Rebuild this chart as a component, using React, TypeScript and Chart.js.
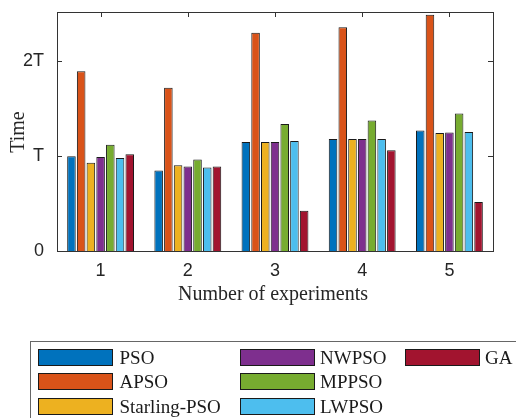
import React, { useEffect, useRef } from "react";
import { Chart, registerables } from "chart.js";

Chart.register(...registerables);

const categories = ["1", "2", "3", "4", "5"];
const seriesNames = ["PSO", "APSO", "Starling-PSO", "NWPSO", "MPPSO", "LWPSO", "GA"];
const seriesColors = ["#0072BD", "#D95319", "#EDB120", "#7E2F8E", "#77AC30", "#4DBEEE", "#A2142F"];
const pso = [1.0, 0.85, 1.15, 1.18, 1.27];
const apso = [1.895, 1.72, 2.3, 2.36, 2.49];
const starling = [0.93, 0.905, 1.15, 1.18, 1.245];
const nwpso = [0.99, 0.89, 1.15, 1.18, 1.25];
const mppso = [1.12, 0.965, 1.34, 1.375, 1.45];
const lwpso = [0.98, 0.88, 1.16, 1.18, 1.255];
const ga = [1.02, 0.89, 0.425, 1.063, 0.516];
const seriesValues = [pso, apso, starling, nwpso, mppso, lwpso, ga];
const yTickValues = [0, 1, 2];
const yTickLabels = ["0", "T", "2T"];
const xTitle = "Number of experiments";
const yTitle = "Time";

const AXIS = "#333333";

const decorPlugin = {
  id: "decor",
  beforeDatasetsDraw(chart: any) {
    const { ctx, chartArea: a, scales } = chart;
    const x = scales.x;
    const y = scales.y;
    ctx.save();
    ctx.strokeStyle = AXIS;
    ctx.lineWidth = 1;
    const tl = 5;
    ctx.beginPath();
    yTickValues.forEach((v) => {
      const py = Math.round(y.getPixelForValue(v)) + 0.5;
      ctx.moveTo(a.left, py);
      ctx.lineTo(a.left + tl, py);
      ctx.moveTo(a.right, py);
      ctx.lineTo(a.right - tl, py);
    });
    categories.forEach((_, i) => {
      const px = Math.round(x.getPixelForValue(i)) + 0.5;
      ctx.moveTo(px, a.top);
      ctx.lineTo(px, a.top + tl);
      ctx.moveTo(px, a.bottom);
      ctx.lineTo(px, a.bottom - tl);
    });
    ctx.stroke();
    ctx.restore();
  },
  afterDraw(chart: any) {
    const { ctx, chartArea: a } = chart;
    ctx.save();
    ctx.strokeStyle = AXIS;
    ctx.lineWidth = 1;
    ctx.strokeRect(Math.round(a.left) + 0.5, Math.round(a.top) + 0.5, Math.round(a.right - a.left), Math.round(a.bottom - a.top));

    ctx.fillStyle = "#262626";
    ctx.font = '20px "Liberation Serif"';
    ctx.textAlign = "center";
    ctx.textBaseline = "alphabetic";
    ctx.fillText(xTitle, 273, 300);
    ctx.save();
    ctx.translate(24, 132);
    ctx.rotate(-Math.PI / 2);
    ctx.fillText(yTitle, 0, 0);
    ctx.restore();

    ctx.strokeStyle = "#666666";
    ctx.strokeRect(30.5, 341.5, 520, 100);
    const colX = [38.5, 240.5, 405.5];
    const textX = [119.5, 320, 485];
    const rowC = [357, 381.3, 405.6];
    const swW = 74;
    const swH = 16;
    ctx.font = '19px "Liberation Serif"';
    ctx.textAlign = "left";
    ctx.textBaseline = "alphabetic";
    chart.data.datasets.forEach((ds: any, i: number) => {
      const col = Math.floor(i / 3);
      const row = i % 3;
      const sx = colX[col];
      const sy = Math.round(rowC[row] - swH / 2) + 0.5;
      ctx.fillStyle = ds.backgroundColor;
      ctx.fillRect(sx, sy, swW, swH);
      ctx.strokeStyle = "#1a1a1a";
      ctx.strokeRect(sx, sy, swW, swH);
      ctx.fillStyle = "#1a1a1a";
      ctx.fillText(ds.label, textX[col], rowC[row] + 7);
    });
    ctx.restore();
  },
};

export default function App() {
  const ref = useRef<HTMLCanvasElement | null>(null);
  useEffect(() => {
    document.body.style.margin = "0";
    const canvas = ref.current!;
    const chart = new Chart(canvas, {
      type: "bar",
      data: {
        labels: categories,
        datasets: seriesNames.map((name, i) => ({
          label: name,
          data: seriesValues[i],
          backgroundColor: seriesColors[i],
          borderColor: "#1a1a1a",
          borderWidth: 1,
          categoryPercentage: 0.78,
          barPercentage: 0.88,
        })),
      },
      options: {
        responsive: false,
        animation: false,
        layout: { padding: { left: 0, top: 12, right: 23, bottom: 0 } },
        plugins: { legend: { display: false }, tooltip: { enabled: false } },
        scales: {
          x: {
            grid: { display: false },
            border: { display: false },
            ticks: {
              color: "#262626",
              font: { family: '"Liberation Sans"', size: 18 },
              padding: 1,
            },
            afterFit: (s: any) => {
              s.height = 167;
              s.paddingLeft = 0;
              s.paddingRight = 0;
            },
          },
          y: {
            min: 0,
            max: 2.52,
            grid: { display: false },
            border: { display: false },
            afterBuildTicks: (s: any) => {
              s.ticks = yTickValues.map((v) => ({ value: v }));
            },
            ticks: {
              color: "#262626",
              font: { family: '"Liberation Sans"', size: 18 },
              padding: 5,
              callback: (v: any) => {
                const idx = yTickValues.indexOf(Number(v));
                return idx >= 0 ? yTickLabels[idx] : "";
              },
            },
            afterFit: (s: any) => {
              s.width = 57;
              s.paddingTop = 0;
              s.paddingBottom = 0;
            },
          },
        },
      },
      plugins: [decorPlugin],
    });
    return () => chart.destroy();
  }, []);
  return <canvas ref={ref} width={516} height={418} style={{ display: "block", width: 516, height: 418 }} />;
}
